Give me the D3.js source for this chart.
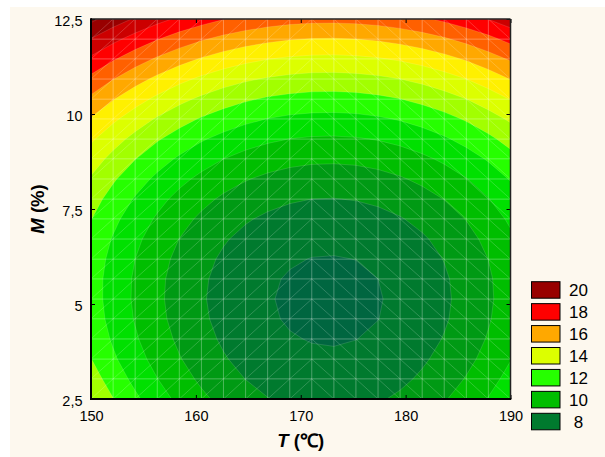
<!DOCTYPE html>
<html>
<head>
<meta charset="utf-8">
<script src="https://cdn.jsdelivr.net/npm/d3@7"></script>
<style>
  html, body { margin: 0; padding: 0; background: #ffffff; }
  svg { display: block; }
  text { font-family: "Liberation Sans", Arial, Helvetica, sans-serif; fill: #000; }
</style>
</head>
<body>
<svg id="chart" width="605" height="457"></svg>
<script>
// Temperature nodes of the surface grid (°C), left to right
const tempNodes = [150, 152.11, 154.21, 156.32, 158.42, 160.53, 162.63, 164.74, 166.84, 168.95,
                   171.05, 173.16, 175.26, 177.37, 179.47, 181.58, 183.68, 185.79, 187.89, 190];
// Moisture nodes of the surface grid (%), bottom to top
const moistNodes = [2.5, 3.03, 3.55, 4.08, 4.61, 5.13, 5.66, 6.18, 6.71, 7.24,
                    7.76, 8.29, 8.82, 9.34, 9.87, 10.39, 10.92, 11.45, 11.97, 12.5];
// Response at each node: one row per moisture node, one column per temperature node
const response = [
  [13.97, 13.03, 12.19, 11.43, 10.77, 10.20, 9.72, 9.33, 9.03, 8.82, 8.71, 8.68, 8.75, 8.90, 9.15, 9.49, 9.92, 10.44, 11.05, 11.75],
  [13.46, 12.56, 11.74, 11.02, 10.38, 9.83, 9.36, 8.99, 8.70, 8.50, 8.39, 8.36, 8.43, 8.58, 8.81, 9.14, 9.55, 10.06, 10.65, 11.32],
  [13.02, 12.15, 11.37, 10.67, 10.06, 9.53, 9.08, 8.72, 8.45, 8.25, 8.15, 8.12, 8.18, 8.33, 8.56, 8.87, 9.27, 9.75, 10.31, 10.96],
  [12.72, 11.88, 11.11, 10.43, 9.83, 9.31, 8.87, 8.52, 8.25, 8.06, 7.96, 7.93, 7.99, 8.13, 8.36, 8.66, 9.05, 9.52, 10.08, 10.71],
  [12.53, 11.69, 10.94, 10.26, 9.67, 9.16, 8.73, 8.38, 8.11, 7.92, 7.82, 7.79, 7.85, 7.99, 8.21, 8.52, 8.90, 9.37, 9.92, 10.55],
  [12.44, 11.61, 10.86, 10.19, 9.61, 9.10, 8.67, 8.33, 8.06, 7.88, 7.77, 7.75, 7.81, 7.95, 8.17, 8.47, 8.85, 9.31, 9.85, 10.47],
  [12.44, 11.62, 10.88, 10.22, 9.64, 9.14, 8.72, 8.37, 8.11, 7.93, 7.83, 7.81, 7.86, 8.00, 8.22, 8.51, 8.89, 9.35, 9.88, 10.50],
  [12.54, 11.73, 11.00, 10.34, 9.77, 9.27, 8.86, 8.52, 8.26, 8.08, 7.98, 7.96, 8.01, 8.15, 8.36, 8.66, 9.03, 9.48, 10.01, 10.62],
  [12.73, 11.93, 11.21, 10.56, 9.99, 9.50, 9.09, 8.76, 8.50, 8.32, 8.22, 8.20, 8.26, 8.39, 8.60, 8.89, 9.26, 9.71, 10.23, 10.83],
  [13.03, 12.23, 11.52, 10.88, 10.32, 9.83, 9.42, 9.09, 8.84, 8.67, 8.57, 8.54, 8.60, 8.73, 8.94, 9.23, 9.59, 10.03, 10.55, 11.15],
  [13.41, 12.63, 11.92, 11.29, 10.73, 10.26, 9.85, 9.53, 9.28, 9.10, 9.00, 8.98, 9.04, 9.17, 9.38, 9.66, 10.02, 10.45, 10.97, 11.56],
  [13.90, 13.12, 12.42, 11.80, 11.25, 10.78, 10.38, 10.06, 9.81, 9.64, 9.54, 9.52, 9.57, 9.70, 9.91, 10.19, 10.54, 10.97, 11.48, 12.06],
  [14.48, 13.71, 13.02, 12.40, 11.86, 11.39, 11.00, 10.68, 10.44, 10.27, 10.17, 10.15, 10.20, 10.33, 10.53, 10.81, 11.16, 11.59, 12.09, 12.66],
  [15.15, 14.39, 13.71, 13.10, 12.57, 12.10, 11.72, 11.40, 11.16, 10.99, 10.90, 10.88, 10.93, 11.05, 11.25, 11.53, 11.88, 12.30, 12.79, 13.36],
  [15.92, 15.18, 14.50, 13.90, 13.37, 12.91, 12.53, 12.22, 11.98, 11.81, 11.72, 11.70, 11.75, 11.88, 12.07, 12.34, 12.69, 13.10, 13.59, 14.15],
  [16.79, 16.05, 15.39, 14.79, 14.27, 13.82, 13.44, 13.13, 12.89, 12.73, 12.64, 12.62, 12.67, 12.79, 12.99, 13.26, 13.59, 14.00, 14.49, 15.04],
  [17.75, 17.03, 16.37, 15.78, 15.26, 14.82, 14.44, 14.14, 13.91, 13.75, 13.65, 13.63, 13.69, 13.81, 14.00, 14.26, 14.60, 15.00, 15.48, 16.03],
  [18.82, 18.10, 17.45, 16.87, 16.36, 15.92, 15.55, 15.25, 15.02, 14.86, 14.77, 14.75, 14.80, 14.92, 15.11, 15.37, 15.70, 16.10, 16.57, 17.11],
  [19.97, 19.26, 18.62, 18.05, 17.54, 17.11, 16.74, 16.45, 16.22, 16.06, 15.97, 15.95, 16.00, 16.12, 16.31, 16.57, 16.89, 17.29, 17.75, 18.29],
  [21.22, 20.52, 19.89, 19.32, 18.83, 18.40, 18.04, 17.74, 17.52, 17.36, 17.28, 17.26, 17.31, 17.42, 17.61, 17.86, 18.19, 18.58, 19.03, 19.56]
];
// Contour levels and the fill of the band that starts at each level
const levels      = [7, 8, 9, 10, 11, 12, 13, 14, 15, 16, 17, 18, 19, 20, 21];
const levelColors = ["#006640", "#007A2E", "#009A14", "#00BE00", "#00E000", "#26FF00", "#A2FF00",
                     "#DCFF00", "#FFF000", "#FFA800", "#FF6000", "#FF0000", "#CC0000", "#980000", "#800000"];
// Axis ticks
const xTicks = [150, 160, 170, 180, 190];
const yTicks = [2.5, 5, 7.5, 10, 12.5];
const yTickLabels = ["2,5", "5", "7,5", "10", "12,5"];
// Levels listed in the key, top to bottom
const legendLevels = [20, 18, 16, 14, 12, 10, 8];

const W = 605, H = 457;
const plot = { left: 91, right: 510.5, top: 19, bottom: 399 };

const svg = d3.select("#chart");

// panel background
svg.append("rect")
  .attr("x", 10).attr("y", 7).attr("width", W - 10).attr("height", H - 7)
  .attr("fill", "#FDF8EE");

const x = d3.scaleLinear().domain([150, 190]).range([plot.left, plot.right]);
const y = d3.scaleLinear().domain([2.5, 12.5]).range([plot.bottom, plot.top]);

svg.append("defs").append("clipPath").attr("id", "plotClip")
  .append("rect")
  .attr("x", plot.left).attr("y", plot.top)
  .attr("width", plot.right - plot.left).attr("height", plot.bottom - plot.top);

// filled contour bands
const nx = tempNodes.length, ny = moistNodes.length;
const values = response.flat();
const bands = d3.contours().size([nx, ny]).thresholds(levels)(values);

// grid coordinates (sample centres at i + 0.5) onto the data scales
const gx = d3.scaleLinear().domain([0.5, nx - 0.5]).range([x(tempNodes[0]), x(tempNodes[nx - 1])]);
const gy = d3.scaleLinear().domain([0.5, ny - 0.5]).range([y(moistNodes[0]), y(moistNodes[ny - 1])]);
const gridPath = d3.geoPath(d3.geoTransform({
  point(px, py) { this.stream.point(gx(px), gy(py)); }
}));

const surface = svg.append("g").attr("clip-path", "url(#plotClip)");
surface.selectAll("path.band")
  .data(bands)
  .join("path")
  .attr("class", "band")
  .attr("d", gridPath)
  .attr("fill", (d, i) => levelColors[i])
  .attr("stroke", "rgba(255,255,255,0.22)")
  .attr("stroke-width", 0.6);

// triangulated mesh of the grid
const mesh = surface.append("g").attr("fill", "none").attr("stroke", "#ffffff");
const gridLines = d3.path();
tempNodes.forEach(t => { gridLines.moveTo(x(t), y(moistNodes[0])); gridLines.lineTo(x(t), y(moistNodes[ny - 1])); });
moistNodes.forEach(m => { gridLines.moveTo(x(tempNodes[0]), y(m)); gridLines.lineTo(x(tempNodes[nx - 1]), y(m)); });
mesh.append("path").attr("d", gridLines.toString()).attr("stroke-opacity", 0.3).attr("stroke-width", 1);

const diagonals = d3.path();
const split = Math.floor(nx / 2);
for (let i = 0; i < nx - 1; i++) {
  for (let j = 0; j < ny - 1; j++) {
    if (i < split) {
      diagonals.moveTo(x(tempNodes[i]), y(moistNodes[j]));
      diagonals.lineTo(x(tempNodes[i + 1]), y(moistNodes[j + 1]));
    } else {
      diagonals.moveTo(x(tempNodes[i]), y(moistNodes[j + 1]));
      diagonals.lineTo(x(tempNodes[i + 1]), y(moistNodes[j]));
    }
  }
}
mesh.append("path").attr("d", diagonals.toString()).attr("stroke-opacity", 0.24).attr("stroke-width", 0.8);

// axes with inward ticks on all four sides
const tickLen = 4;
const styleAxis = g => {
  g.select(".domain").remove();
  g.selectAll(".tick line").attr("stroke", "#000").attr("stroke-width", 1);
};

const bottomAxis = svg.append("g")
  .attr("transform", `translate(0,${plot.bottom})`)
  .call(d3.axisBottom(x).tickValues(xTicks).tickSize(-tickLen).tickSizeOuter(0))
  .call(styleAxis);
bottomAxis.selectAll(".tick text")
  .attr("y", 22).attr("dy", null)
  .style("font-size", "14.5px");

const leftAxis = svg.append("g")
  .attr("transform", `translate(${plot.left},0)`)
  .call(d3.axisLeft(y).tickValues(yTicks).tickFormat((d, i) => yTickLabels[i]).tickSize(-tickLen).tickSizeOuter(0))
  .call(styleAxis);
leftAxis.selectAll(".tick text")
  .attr("x", -8.5).attr("dy", null).attr("y", 6.7)
  .attr("text-anchor", "end")
  .style("font-size", "14.5px");

svg.append("g")
  .attr("transform", `translate(0,${plot.top})`)
  .call(d3.axisTop(x).tickValues(xTicks).tickSize(-tickLen).tickSizeOuter(0).tickFormat(""))
  .call(styleAxis);
svg.append("g")
  .attr("transform", `translate(${plot.right},0)`)
  .call(d3.axisRight(y).tickValues(yTicks).tickSize(-tickLen).tickSizeOuter(0).tickFormat(""))
  .call(styleAxis);

// frame
const frame = svg.append("g").attr("fill", "none").attr("stroke", "#000");
frame.append("line").attr("x1", plot.left).attr("x2", plot.right).attr("y1", plot.top).attr("y2", plot.top)
  .attr("stroke-width", 1.5).attr("stroke", "#222");
frame.append("line").attr("x1", plot.right).attr("x2", plot.right).attr("y1", plot.top).attr("y2", plot.bottom)
  .attr("stroke-width", 1.5).attr("stroke", "#222");
frame.append("line").attr("x1", plot.left).attr("x2", plot.left).attr("y1", plot.top - 0.75).attr("y2", plot.bottom + 1)
  .attr("stroke-width", 2);
frame.append("line").attr("x1", plot.left - 1).attr("x2", plot.right + 0.75).attr("y1", plot.bottom).attr("y2", plot.bottom)
  .attr("stroke-width", 2);

// axis titles
const xTitle = svg.append("text")
  .attr("x", (plot.left + plot.right) / 2).attr("y", 447)
  .attr("text-anchor", "middle")
  .style("font-size", "18.5px").style("font-weight", "bold");
xTitle.append("tspan").style("font-style", "italic").text("T");
xTitle.append("tspan").text(" (\u2103)");

const yTitle = svg.append("text")
  .attr("transform", `translate(44,${(plot.top + plot.bottom) / 2}) rotate(-90)`)
  .attr("text-anchor", "middle")
  .style("font-size", "18.5px").style("font-weight", "bold");
yTitle.append("tspan").style("font-style", "italic").text("M");
yTitle.append("tspan").text(" (%)");

// key
const keyY = d3.scalePoint().domain(legendLevels).range([281.7, 413.3]);
const key = svg.append("g");
const keyItems = key.selectAll("g.item")
  .data(legendLevels)
  .join("g")
  .attr("class", "item")
  .attr("transform", d => `translate(0,${keyY(d)})`);
keyItems.append("rect")
  .attr("x", 531.5).attr("y", 0).attr("width", 28.5).attr("height", 16.5)
  .attr("fill", d => levelColors[levels.indexOf(d)])
  .attr("stroke", "#000").attr("stroke-width", 1);
keyItems.append("text")
  .attr("x", 578.5).attr("y", 14.3)
  .attr("text-anchor", "middle")
  .style("font-size", "17px")
  .text(d => d);
</script>
</body>
</html>
